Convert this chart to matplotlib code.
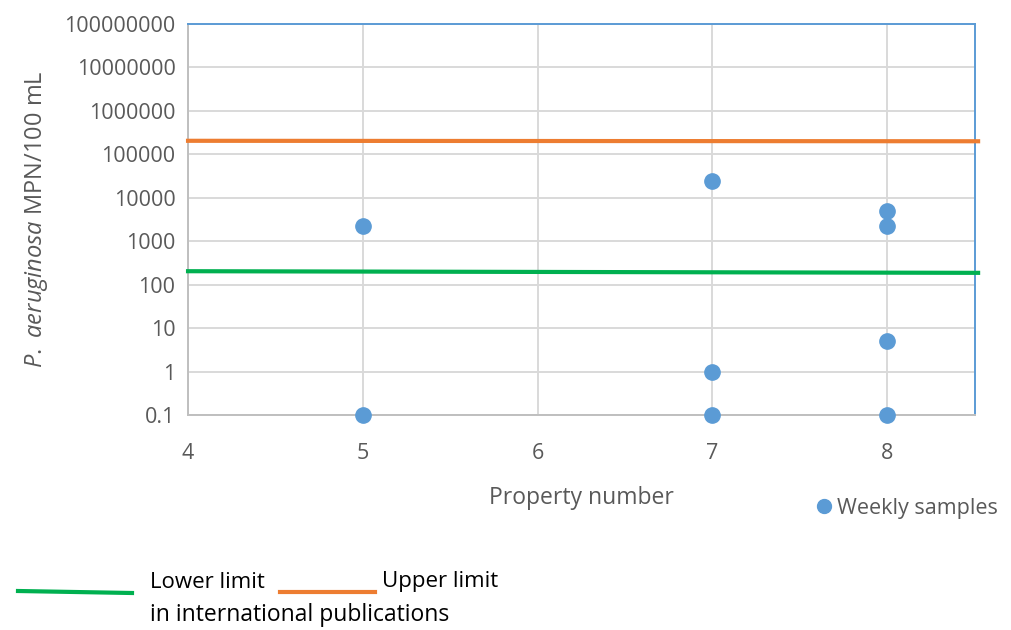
import numpy as np
import matplotlib.pyplot as plt
from matplotlib.lines import Line2D

plt.rcParams['font.family'] = ['Open Sans', 'DejaVu Sans']
plt.rcParams['mathtext.fontset'] = 'custom'
plt.rcParams['mathtext.it'] = 'Open Sans:italic'
plt.rcParams['mathtext.rm'] = 'Open Sans'

# Weekly P. aeruginosa counts per property (MPN/100 mL)
prop_x = [5, 5, 7, 7, 7, 8, 8, 8, 8]
counts = [2200, 0.1, 24000, 1, 0.1, 5000, 2200, 5, 0.1]

# Limits reported in international publications
limit_x = [4, 8.52]
lower_limit = [205, 188]
upper_limit = [205000, 200000]

y_ticks = [0.1, 1, 10, 100, 1000, 10000, 100000, 1000000, 10000000, 100000000]
y_labels = ["0.1", "1", "10", "100", "1000", "10000", "100000", "1000000",
            "10000000", "100000000"]
x_ticks = [4, 5, 6, 7, 8]

blue = "#5B9BD5"
green = "#00B050"
orange = "#ED7D31"
text_col = "#595959"

fig = plt.figure(figsize=(10.11, 6.30), dpi=100)
ax = fig.add_axes([0.186, 0.341, 0.778, 0.621])

ax.set_yscale("log")
ax.set_xlim(4, 8.5)
ax.set_ylim(0.1, 1e8)
ax.set_yticks(y_ticks)
ax.set_yticklabels(y_labels)
ax.yaxis.set_minor_locator(plt.NullLocator())
ax.set_xticks(x_ticks)
ax.tick_params(length=0, labelsize=15.5, labelcolor=text_col)
ax.tick_params(axis="x", pad=20)
ax.tick_params(axis="y", pad=9)

ax.grid(True, color="#D9D9D9", linewidth=1.4)
ax.set_axisbelow(True)
for side in ["left", "bottom"]:
    ax.spines[side].set_color("#BFBFBF")
    ax.spines[side].set_linewidth(1.4)
for side in ["top", "right"]:
    ax.spines[side].set_color(blue)
    ax.spines[side].set_linewidth(1.4)

ax.plot(limit_x, upper_limit, color=orange, linewidth=3, clip_on=False, zorder=3)
ax.plot(limit_x, lower_limit, color=green, linewidth=3, clip_on=False, zorder=3)
ax.plot(prop_x, counts, "o", color=blue, markersize=11, clip_on=False, zorder=4)

ax.set_xlabel("Property number", fontsize=16.5, color=text_col, labelpad=16)
ax.set_ylabel(r"$\it{P.\ aeruginosa}$ MPN/100 mL", fontsize=17, color=text_col,
              labelpad=10)

# Marker key for the samples
fig.legend(handles=[Line2D([], [], marker="o", color=blue, linestyle="",
                           markersize=10)],
           labels=["Weekly samples"], loc="center left",
           bbox_to_anchor=(0.794, 0.193), frameon=False, fontsize=15.5,
           handletextpad=0.0, labelcolor=text_col, borderaxespad=0,
           handlelength=1.2)

# Key for the limit lines, drawn in figure coordinates
fig.add_artist(Line2D([18 / 1011, 132 / 1011], [1 - 591 / 630, 1 - 593 / 630],
                      color=green, linewidth=3))
fig.add_artist(Line2D([280 / 1011, 375 / 1011], [1 - 592 / 630, 1 - 592 / 630],
                      color=orange, linewidth=3))
fig.text(150 / 1011, 1 - 582 / 630, "Lower limit", fontsize=16, color="black",
         va="center")
fig.text(382 / 1011, 1 - 582 / 630, "Upper limit", fontsize=16, color="black",
         va="center")
fig.text(150 / 1011, 1 - 615 / 630, "in international publications", fontsize=16.5,
         color="black", va="center")

fig.savefig("out.png", dpi=100)
